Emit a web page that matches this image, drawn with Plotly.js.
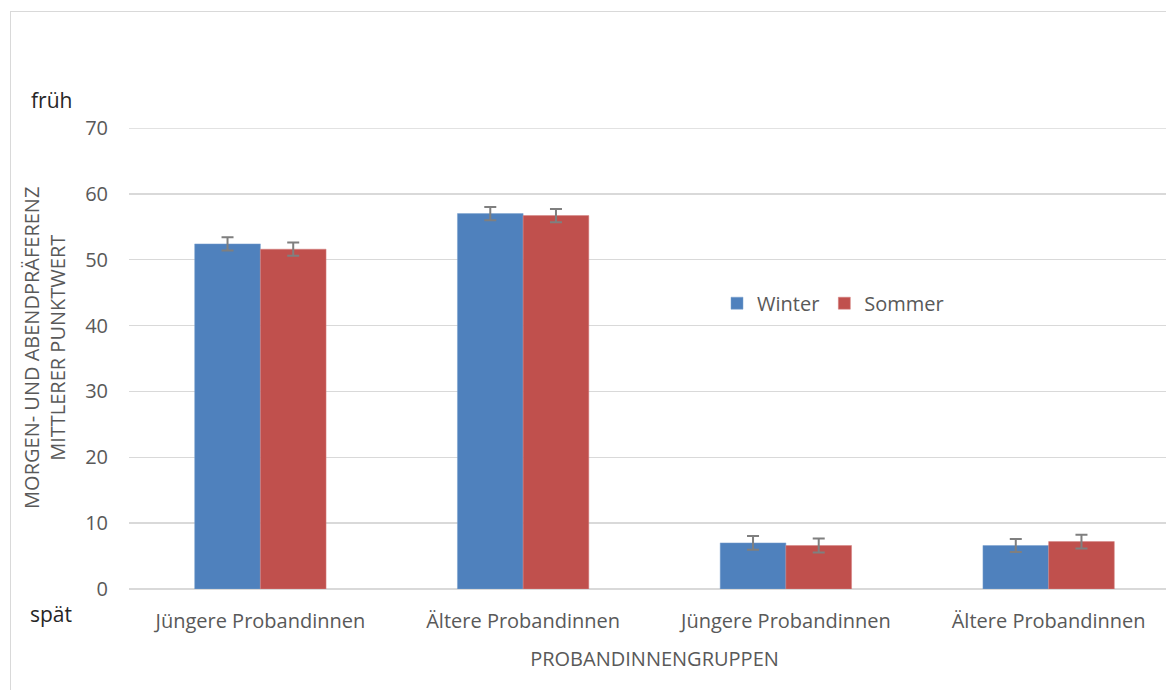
<!DOCTYPE html>
<html>
<head>
<meta charset="utf-8">
<script src="https://cdn.plot.ly/plotly-3.0.1.min.js"></script>
<style>
  html, body { margin: 0; padding: 0; background: #fff; overflow: hidden; width: 1166px; height: 690px; }
  #frame { position: absolute; left: 10px; top: 11px; width: 1200px; height: 700px; border: 1px solid #d9d9d9; box-sizing: border-box; }
  #chart { position: absolute; left: 0; top: 0; width: 1190px; height: 690px; }
</style>
</head>
<body>
<div id="frame"></div>
<div id="chart"></div>
<script>
const categories = ['Jüngere Probandinnen', 'Ältere Probandinnen', 'Jüngere Probandinnen ', 'Ältere Probandinnen '];
const tickLabels = ['Jüngere Probandinnen', 'Ältere Probandinnen', 'Jüngere Probandinnen', 'Ältere Probandinnen'];
const winter = [52.4, 57.0, 7.0, 6.6];
const winterErr = [1.0, 1.0, 1.05, 1.0];
const sommer = [51.6, 56.7, 6.6, 7.2];
const sommerErr = [1.0, 1.0, 1.05, 1.05];
const yTicks = [0, 10, 20, 30, 40, 50, 60, 70];
const yMax = 70;

const font = "'Open Sans', 'DejaVu Sans', sans-serif";
const txt = '#595959';
const PW = 1051, PH = 461.6, ML = 129;

const errStyle = (arr) => ({ type: 'data', array: arr, visible: true, color: '#7f7f7f', thickness: 2, width: 6 });

const traces = [
  { type: 'bar', name: 'Winter', x: categories, y: winter, error_y: errStyle(winterErr),
    marker: { color: '#4f81bd', line: { color: '#7aa0cf', width: 0.5 } } },
  { type: 'bar', name: 'Sommer', x: categories, y: sommer, error_y: errStyle(sommerErr),
    marker: { color: '#c0504d', line: { color: '#d58380', width: 0.5 } } }
];

const layout = {
  width: 1190, height: 690,
  margin: { l: ML, r: 10, t: 128, b: 101, pad: 0 },
  paper_bgcolor: 'rgba(0,0,0,0)', plot_bgcolor: 'rgba(0,0,0,0)',
  font: { family: font, size: 20, color: txt },
  barmode: 'group', bargap: 0.5, bargroupgap: 0,
  showlegend: true,
  legend: { orientation: 'h', x: (717 - ML) / PW, y: 0.62, xanchor: 'left', yanchor: 'middle',
            font: { family: font, size: 20, color: txt }, bgcolor: 'rgba(0,0,0,0)', itemwidth: 30, traceorder: 'normal' },
  xaxis: { type: 'category', tickvals: categories, ticktext: tickLabels, showgrid: false, zeroline: false,
           showline: false, ticks: '', ticklabelstandoff: 18, tickfont: { family: font, size: 20, color: txt },
           title: { text: 'PROBANDINNENGRUPPEN', font: { family: font, size: 20, color: txt }, standoff: 18 } },
  yaxis: { range: [0, yMax], tickvals: yTicks, showgrid: true, gridcolor: '#d9d9d9', gridwidth: 1.3,
           zeroline: true, zerolinecolor: '#d9d9d9', zerolinewidth: 1.3, showline: false, ticks: '',
           ticklabelstandoff: 20, tickfont: { family: font, size: 20, color: txt }, fixedrange: true },
  shapes: [
    { type: 'line', xref: 'paper', yref: 'y', x0: 0, x1: 1, y0: yMax, y1: yMax, line: { color: '#d9d9d9', width: 1.3 }, layer: 'below' }
  ],
  annotations: [
    { text: 'MORGEN- UND ABENDPRÄFERENZ<br>MITTLERER PUNKTWERT', textangle: -90, xref: 'paper', yref: 'paper',
      x: (45 - ML) / PW, y: 0.523, xanchor: 'center', yanchor: 'middle', showarrow: false,
      font: { family: font, size: 20, color: txt } },
    { text: 'früh', xref: 'paper', yref: 'paper', x: (51 - ML) / PW, y: 1 + (128 - 100) / PH,
      xanchor: 'center', yanchor: 'middle', showarrow: false, font: { family: font, size: 21, color: '#262626' } },
    { text: 'spät', xref: 'paper', yref: 'paper', x: (51 - ML) / PW, y: -(615 - 589.6) / PH,
      xanchor: 'center', yanchor: 'middle', showarrow: false, font: { family: font, size: 21, color: '#262626' } }
  ]
};

Plotly.newPlot('chart', traces, layout, { displayModeBar: false, staticPlot: true });
</script>
</body>
</html>
